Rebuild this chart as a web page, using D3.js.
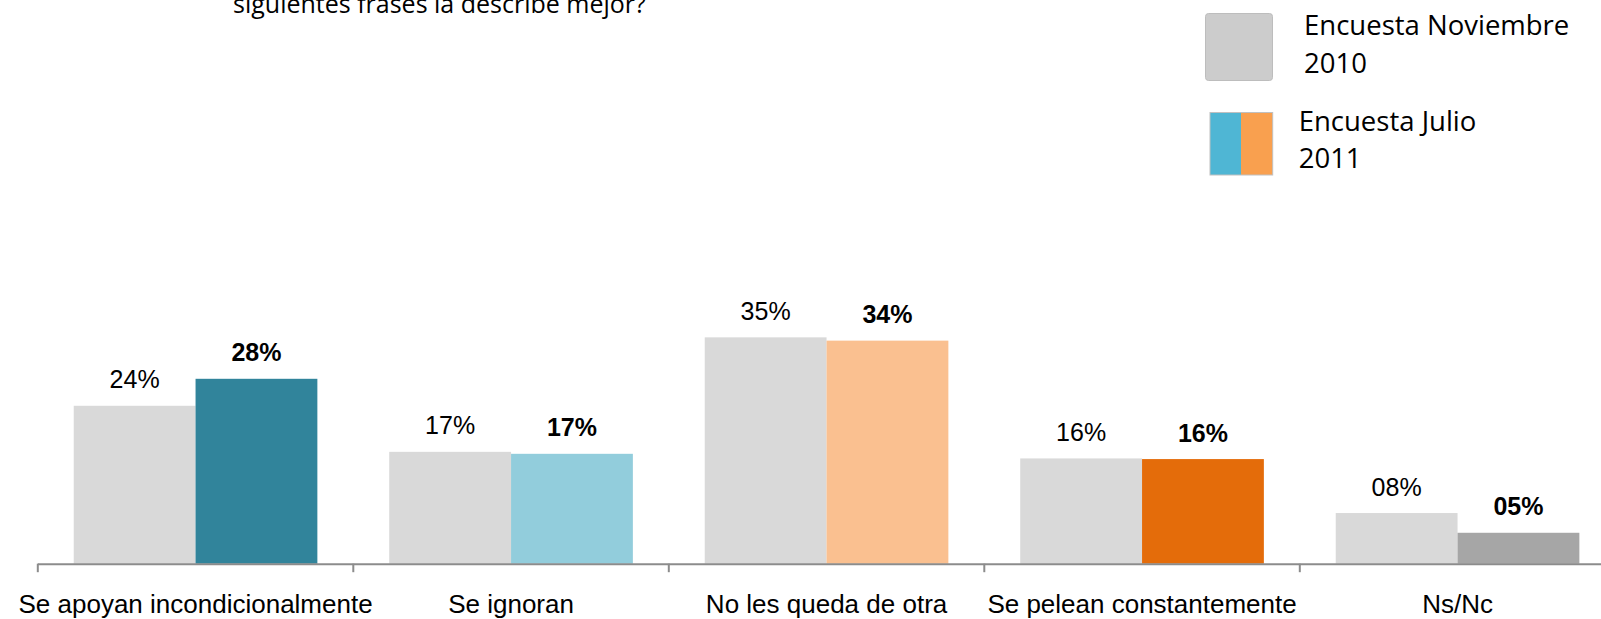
<!DOCTYPE html>
<html>
<head>
<meta charset="utf-8">
<script src="https://cdn.jsdelivr.net/npm/d3@7/dist/d3.min.js"></script>
<style>
  html, body { margin: 0; padding: 0; background: #ffffff; }
  svg { display: block; }
</style>
</head>
<body>
<svg id="chart" width="1601" height="619"></svg>
<script>
// ---- data ----
const categories = ["Se apoyan incondicionalmente", "Se ignoran", "No les queda de otra", "Se pelean constantemente", "Ns/Nc"];
const nov2010 = [24.0, 17.0, 34.4, 16.0, 7.7];
const jul2011 = [28.1, 16.7, 33.9, 15.9, 4.7];
const nov2010Labels = ["24%", "17%", "35%", "16%", "08%"];
const jul2011Labels = ["28%", "17%", "34%", "16%", "05%"];
const legendLines = [["Encuesta Noviembre", "2010"], ["Encuesta Julio", "2011"]];
const titleText = "siguientes frases la describe mejor?";

// ---- styles ----
const novColor = "#d9d9d9";
const julColors = ["#31849b", "#92cddc", "#fac090", "#e46c0a", "#a6a6a6"];
const labelFont = "'Liberation Sans', Arial, sans-serif";
const textFont = "'Open Sans', 'Noto Sans', sans-serif";

const svg = d3.select("#chart");

const baseY = 563.7;
const x = d3.scaleBand().domain(categories).range([37.8, 37.8 + 5 * 315.5]).padding(0);
const xs = d3.scaleBand().domain(["nov", "jul"]).range([0, x.bandwidth()]).paddingInner(0).paddingOuter(0.295);
const y = d3.scaleLinear().domain([0, 40]).range([baseY, baseY - 40 * 6.58]);

const rows = categories.map((c, i) => ({
  cat: c, i,
  nov: nov2010[i], jul: jul2011[i],
  novL: nov2010Labels[i], julL: jul2011Labels[i]
}));

// title (cut at the top of the picture, as in the original slide)
svg.append("text")
  .attr("x", 233).attr("y", 13)
  .attr("font-family", textFont).attr("font-size", 25)
  .attr("fill", "#000")
  .text(titleText);

// bars
const g = svg.append("g");
const groups = g.selectAll("g.cat").data(rows).join("g")
  .attr("class", "cat")
  .attr("transform", d => `translate(${x(d.cat)},0)`);

groups.append("rect")
  .attr("x", xs("nov")).attr("width", xs.bandwidth())
  .attr("y", d => y(d.nov)).attr("height", d => y(0) - y(d.nov))
  .attr("fill", novColor);

groups.append("rect")
  .attr("x", xs("jul")).attr("width", xs.bandwidth())
  .attr("y", d => y(d.jul)).attr("height", d => y(0) - y(d.jul))
  .attr("fill", d => julColors[d.i]);

// value labels
groups.append("text")
  .attr("x", xs("nov") + xs.bandwidth() / 2)
  .attr("y", d => y(d.nov) - 17.5)
  .attr("text-anchor", "middle")
  .attr("font-family", labelFont).attr("font-size", 25)
  .attr("fill", "#000")
  .text(d => d.novL);

groups.append("text")
  .attr("x", xs("jul") + xs.bandwidth() / 2)
  .attr("y", d => y(d.jul) - 17.5)
  .attr("text-anchor", "middle")
  .attr("font-family", labelFont).attr("font-size", 25)
  .attr("font-weight", "bold")
  .attr("fill", "#000")
  .text(d => d.julL);

// axis
const axisG = svg.append("g").attr("transform", `translate(0,${baseY})`);
axisG.append("line")
  .attr("x1", x.range()[0]).attr("x2", 1601)
  .attr("y1", 0.5).attr("y2", 0.5)
  .attr("stroke", "#8c8c8c").attr("stroke-width", 2);
axisG.selectAll("line.tick").data(categories).join("line")
  .attr("class", "tick")
  .attr("x1", d => x(d)).attr("x2", d => x(d))
  .attr("y1", 0).attr("y2", 8.5)
  .attr("stroke", "#8c8c8c").attr("stroke-width", 2);

const axis = d3.axisBottom(x).tickSize(0).tickPadding(0);
const labelsG = svg.append("g").attr("transform", `translate(0,${baseY})`).call(axis);
labelsG.select(".domain").remove();
labelsG.selectAll("text")
  .attr("y", 49.3).attr("dy", 0)
  .attr("font-family", labelFont).attr("font-size", 26)
  .attr("fill", "#000");

// legend
const leg = svg.append("g");
leg.append("rect")
  .attr("x", 1205.5).attr("y", 13.5).attr("width", 67).attr("height", 67)
  .attr("rx", 3).attr("fill", "#cccccc").attr("stroke", "#bdbdbd").attr("stroke-width", 1);
leg.append("rect")
  .attr("x", 1210).attr("y", 112.5).attr("width", 31).attr("height", 62.5)
  .attr("fill", "#4fb6d4");
leg.append("rect")
  .attr("x", 1241).attr("y", 112.5).attr("width", 31.7).attr("height", 62.5)
  .attr("fill", "#f9a04f");
leg.append("rect")
  .attr("x", 1210).attr("y", 112.5).attr("width", 62.7).attr("height", 62.5)
  .attr("fill", "none").attr("stroke", "#c0c0c0").attr("stroke-width", 1);

function legendText(lines, x0, ys) {
  lines.forEach((t, k) => {
    leg.append("text")
      .attr("x", x0).attr("y", ys[k])
      .attr("font-family", textFont).attr("font-size", 27.5)
      .attr("fill", "#000")
      .text(t);
  });
}
legendText(legendLines[0], 1304, [35, 72.5]);
legendText(legendLines[1], 1298.7, [131, 167.5]);
</script>
</body>
</html>
